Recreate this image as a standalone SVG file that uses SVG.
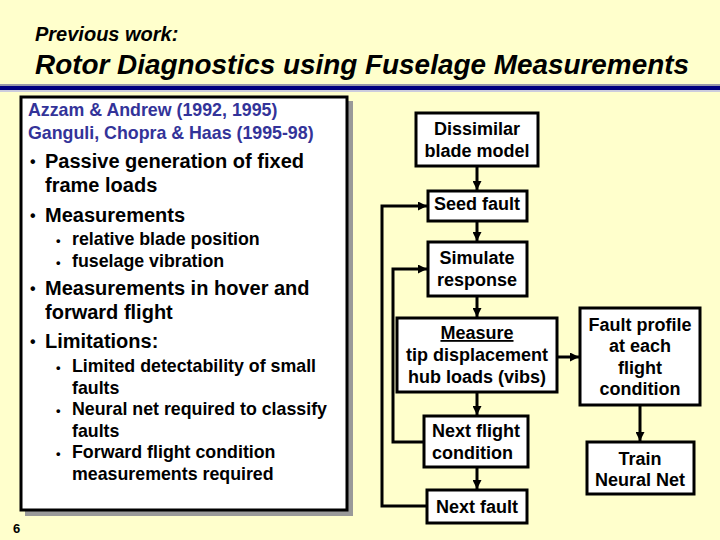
<svg xmlns="http://www.w3.org/2000/svg" width="720" height="540" viewBox="0 0 720 540">
<defs>
<marker id="ah" viewBox="0 0 10 10" refX="10" refY="5" markerWidth="3" markerHeight="3" orient="auto" markerUnits="strokeWidth">
<path d="M0,0 L10,5 L0,10 z" fill="#000"/>
</marker>
<style>
text{font-family:"Liberation Sans",Arial,sans-serif;font-weight:bold;fill:#000}
.title{font-style:italic}
.box{fill:#fff;stroke:#000;stroke-width:3}
.fc{font-size:18px;text-anchor:middle}
.ref{fill:#333399;font-size:17.8px}
.b1{font-size:20px}
.b2{font-size:17.8px}
.dot1{font-size:16px}
.dot{font-size:13px}
.con path{fill:none;stroke:#000;stroke-width:3}
</style>
</defs>
<rect width="720" height="540" fill="#FFFFCC"/>
<g id="header">
<text class="title" x="35" y="41" font-size="20">Previous work:</text>
<text class="title" x="35" y="74" font-size="27" textLength="654" lengthAdjust="spacingAndGlyphs">Rotor Diagnostics using Fuselage Measurements</text>
<rect x="0" y="84" width="720" height="2" fill="#9999AA"/>
<rect x="0" y="86" width="720" height="4" fill="#000080"/>
<rect x="0" y="90" width="720" height="2" fill="#CCCCDD"/>
</g>
<g id="leftbox">
<rect x="25" y="101" width="328" height="415" fill="#999999"/>
<rect x="21" y="97" width="326" height="413" class="box"/>
<text class="ref" x="28" y="116">Azzam &amp; Andrew (1992, 1995)</text>
<text class="ref" x="28" y="139">Ganguli, Chopra &amp; Haas (1995-98)</text>
<text class="dot1" x="30" y="167">•</text>
<text class="b1" x="45" y="168">Passive generation of fixed</text>
<text class="b1" x="45" y="192">frame loads</text>
<text class="dot1" x="30" y="221">•</text>
<text class="b1" x="45" y="222">Measurements</text>
<text class="dot" x="56" y="245">•</text>
<text class="b2" x="72" y="245">relative blade position</text>
<text class="dot" x="56" y="267">•</text>
<text class="b2" x="72" y="267">fuselage vibration</text>
<text class="dot1" x="30" y="294">•</text>
<text class="b1" x="45" y="295">Measurements in hover and</text>
<text class="b1" x="45" y="319">forward flight</text>
<text class="dot1" x="30" y="347">•</text>
<text class="b1" x="45" y="348">Limitations:</text>
<text class="dot" x="56" y="372">•</text>
<text class="b2" x="72" y="372">Limited detectability of small</text>
<text class="b2" x="72" y="394">faults</text>
<text class="dot" x="56" y="415">•</text>
<text class="b2" x="72" y="415">Neural net required to classify</text>
<text class="b2" x="72" y="437">faults</text>
<text class="dot" x="56" y="458">•</text>
<text class="b2" x="72" y="458">Forward flight condition</text>
<text class="b2" x="72" y="480">measurements required</text>
</g>
<text x="13" y="533" font-size="13">6</text>
<g class="con" id="connectors">
<path d="M477,166 V190" marker-end="url(#ah)"/>
<path d="M477,221 V241" marker-end="url(#ah)"/>
<path d="M477,296 V317" marker-end="url(#ah)"/>
<path d="M477,392 V415" marker-end="url(#ah)"/>
<path d="M477,467 V489" marker-end="url(#ah)"/>
<path d="M427,506 H382 V206 H427" marker-end="url(#ah)"/>
<path d="M424,442 H393 V269 H427" marker-end="url(#ah)"/>
<path d="M557,357 H579" marker-end="url(#ah)"/>
<path d="M640,405 V441" marker-end="url(#ah)"/>
</g>
<g id="n-dissimilar">
<rect x="416" y="113" width="122" height="53" class="box"/>
<text class="fc" x="477" y="135">Dissimilar</text>
<text class="fc" x="477" y="157">blade model</text>
</g>
<g id="n-seed">
<rect x="428" y="191" width="99" height="30" class="box"/>
<text class="fc" x="477" y="210">Seed fault</text>
</g>
<g id="n-simulate">
<rect x="428" y="242" width="99" height="54" class="box"/>
<text class="fc" x="477" y="264">Simulate</text>
<text class="fc" x="477" y="286">response</text>
</g>
<g id="n-measure">
<rect x="397" y="318" width="160" height="74" class="box"/>
<text class="fc" x="477" y="339" text-decoration="underline">Measure</text>
<text class="fc" x="477" y="361">tip displacement</text>
<text class="fc" x="477" y="383">hub loads (vibs)</text>
</g>
<g id="n-nextflight">
<rect x="424" y="416" width="104" height="51" class="box"/>
<text x="432" y="437" font-size="18">Next flight</text>
<text x="432" y="459" font-size="18">condition</text>
</g>
<g id="n-nextfault">
<rect x="427" y="490" width="100" height="33" class="box"/>
<text class="fc" x="477" y="513">Next fault</text>
</g>
<g id="n-faultprofile">
<rect x="580" y="308" width="120" height="97" class="box"/>
<text class="fc" x="640" y="331">Fault profile</text>
<text class="fc" x="640" y="352">at each</text>
<text class="fc" x="640" y="374">flight</text>
<text class="fc" x="640" y="395">condition</text>
</g>
<g id="n-train">
<rect x="587" y="442" width="107" height="52" class="box"/>
<text class="fc" x="640" y="465">Train</text>
<text class="fc" x="640" y="486">Neural Net</text>
</g>
</svg>
